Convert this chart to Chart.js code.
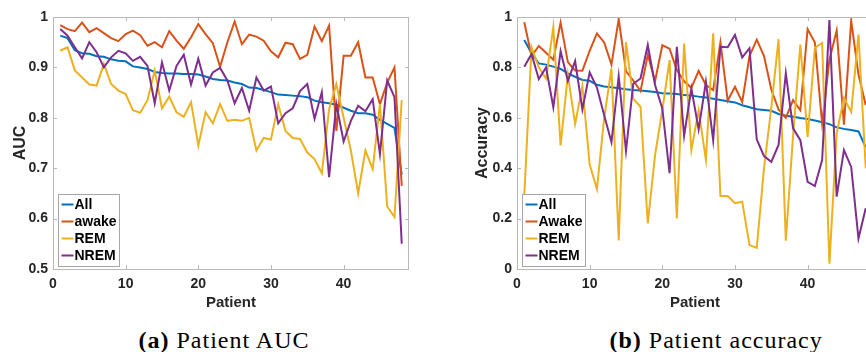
<!DOCTYPE html>
<html>
<head>
<meta charset="utf-8">
<script src="https://cdn.jsdelivr.net/npm/chart.js@4.4.0/dist/chart.umd.min.js"></script>
<style>
  html, body { margin: 0; padding: 0; background: #fff; overflow: hidden; width: 866px; height: 352px; }
  canvas { position: absolute; top: 0; }
  #aucChart { left: 0; }
  #accChart { left: 430px; }
  .caption { position: absolute; top: 328px; font-family: "Liberation Serif", serif; font-size: 24px; line-height: 24px; color: #000; white-space: nowrap; letter-spacing: 1px; }
  .caption b { font-weight: bold; }
</style>
</head>
<body>
<canvas id="aucChart" width="430" height="320"></canvas>
<canvas id="accChart" width="450" height="320"></canvas>
<div class="caption" id="capA"><b>(a)</b> Patient AUC</div>
<div class="caption" id="capB"><b>(b)</b> Patient accuracy</div>
<script>
const patients = [1, 2, 3, 4, 5, 6, 7, 8, 9, 10, 11, 12, 13, 14, 15, 16, 17, 18, 19, 20, 21, 22, 23, 24,
    25, 26, 27, 28, 29, 30, 31, 32, 33, 34, 35, 36, 37, 38, 39, 40, 41, 42, 43, 44, 45, 46, 47, 48];
const xTicks = [0, 10, 20, 30, 40];
const aucTicks = [0.5, 0.6, 0.7, 0.8, 0.9, 1];
const accTicks = [0, 0.2, 0.4, 0.6, 0.8, 1];

const aucLabels = ['All', 'awake', 'REM', 'NREM'];
const accLabels = ['All', 'Awake', 'REM', 'NREM'];

const aucAll = [0.963, 0.958, 0.934, 0.928, 0.927, 0.922, 0.921, 0.916, 0.913, 0.912,
    0.902, 0.900, 0.897, 0.891, 0.889, 0.888, 0.888, 0.887, 0.887, 0.886,
    0.882, 0.877, 0.875, 0.874, 0.870, 0.867, 0.860, 0.859, 0.855, 0.851,
    0.846, 0.845, 0.844, 0.843, 0.841, 0.834, 0.831, 0.829, 0.826, 0.820,
    0.814, 0.809, 0.809, 0.806, 0.796, 0.788, 0.780, 0.687];
const aucAwake = [0.984, 0.976, 0.972, 0.989, 0.970, 0.978, 0.968, 0.958, 0.952, 0.966,
    0.973, 0.964, 0.943, 0.950, 0.940, 0.972, 0.953, 0.937, 0.960, 0.986,
    0.966, 0.948, 0.901, 0.950, 0.991, 0.946, 0.965, 0.961, 0.953, 0.932,
    0.920, 0.949, 0.946, 0.917, 0.925, 0.981, 0.952, 0.983, 0.774, 0.923,
    0.923, 0.950, 0.880, 0.880, 0.827, 0.870, 0.900, 0.665];
const aucRem = [0.933, 0.940, 0.894, 0.880, 0.866, 0.864, 0.907, 0.867, 0.854, 0.847,
    0.815, 0.810, 0.835, 0.894, 0.819, 0.842, 0.811, 0.802, 0.831, 0.745,
    0.811, 0.789, 0.827, 0.794, 0.796, 0.794, 0.800, 0.735, 0.760, 0.757,
    0.827, 0.774, 0.760, 0.758, 0.731, 0.718, 0.690, 0.817, 0.867, 0.800,
    0.735, 0.650, 0.735, 0.698, 0.827, 0.624, 0.603, 0.835];
const aucNrem = [0.976, 0.963, 0.940, 0.918, 0.950, 0.930, 0.900, 0.920, 0.933, 0.928,
    0.913, 0.921, 0.903, 0.829, 0.910, 0.854, 0.903, 0.925, 0.866, 0.917,
    0.864, 0.890, 0.899, 0.874, 0.829, 0.859, 0.814, 0.880, 0.854, 0.862,
    0.789, 0.809, 0.819, 0.853, 0.867, 0.798, 0.851, 0.682, 0.827, 0.753,
    0.794, 0.824, 0.813, 0.837, 0.728, 0.874, 0.841, 0.550];

const accAll = [0.909, 0.856, 0.816, 0.811, 0.803, 0.794, 0.776, 0.763, 0.750, 0.747,
    0.731, 0.724, 0.721, 0.717, 0.713, 0.710, 0.708, 0.705, 0.702, 0.697,
    0.696, 0.694, 0.690, 0.688, 0.684, 0.681, 0.676, 0.671, 0.666, 0.661,
    0.650, 0.642, 0.634, 0.631, 0.628, 0.615, 0.608, 0.604, 0.599, 0.595,
    0.589, 0.582, 0.575, 0.562, 0.556, 0.552, 0.546, 0.483];
const accAwake = [0.979, 0.845, 0.885, 0.858, 0.830, 0.978, 0.821, 0.788, 0.787, 0.866,
    0.935, 0.899, 0.811, 0.992, 0.785, 0.748, 0.706, 0.850, 0.745, 0.888,
    0.874, 0.789, 0.745, 0.719, 0.786, 0.730, 0.710, 0.900, 0.668, 0.723,
    0.663, 0.845, 0.910, 0.845, 0.712, 0.633, 0.600, 0.670, 0.630, 0.952,
    0.899, 0.577, 0.830, 0.946, 0.573, 0.985, 0.772, 0.650];
const accRem = [0.290, 0.880, 0.800, 0.755, 0.960, 0.490, 0.770, 0.575, 0.727, 0.415,
    0.317, 0.600, 0.795, 0.113, 0.900, 0.675, 0.644, 0.181, 0.452, 0.630,
    0.829, 0.201, 0.895, 0.472, 0.630, 0.433, 0.935, 0.290, 0.290, 0.261,
    0.267, 0.095, 0.084, 0.400, 0.640, 0.912, 0.112, 0.530, 0.891, 0.523,
    0.878, 0.897, 0.021, 0.537, 0.679, 0.623, 0.930, 0.400];
const accNrem = [0.803, 0.853, 0.754, 0.800, 0.642, 0.864, 0.747, 0.825, 0.633, 0.780,
    0.720, 0.610, 0.503, 0.765, 0.468, 0.735, 0.756, 0.889, 0.730, 0.637,
    0.380, 0.882, 0.528, 0.717, 0.554, 0.743, 0.511, 0.882, 0.880, 0.929,
    0.840, 0.876, 0.514, 0.448, 0.425, 0.492, 0.776, 0.558, 0.511, 0.346,
    0.329, 0.432, 0.988, 0.287, 0.472, 0.405, 0.121, 0.241];

const colors = ['#0072BD', '#D95319', '#EDB120', '#7E2F8E'];
const textColor = '#262626';
const frameColor = '#b8b8b8';
const sans = '"Liberation Sans", Arial, sans-serif';

// box around the plot area with inward tick marks on all four sides
const framePlugin = {
    id: 'frame',
    afterDatasetsDraw(chart) {
        const { ctx, chartArea: a, scales } = chart;
        ctx.save();
        ctx.strokeStyle = frameColor;
        ctx.lineWidth = 1;
        ctx.strokeRect(a.left + 0.5, a.top + 0.5, a.right - a.left - 1, a.bottom - a.top);
        ctx.beginPath();
        scales.x.ticks.forEach((t) => {
            const px = Math.round(scales.x.getPixelForValue(t.value)) + 0.5;
            ctx.moveTo(px, a.bottom); ctx.lineTo(px, a.bottom - 4);
            ctx.moveTo(px, a.top); ctx.lineTo(px, a.top + 4);
        });
        scales.y.ticks.forEach((t) => {
            const py = Math.round(scales.y.getPixelForValue(t.value)) + 0.5;
            ctx.moveTo(a.left, py); ctx.lineTo(a.left + 4, py);
            ctx.moveTo(a.right, py); ctx.lineTo(a.right - 4, py);
        });
        ctx.stroke();
        ctx.restore();
    }
};

// MATLAB style legend box in the lower left corner
const boxLegendPlugin = {
    id: 'boxLegend',
    afterDatasetsDraw(chart) {
        const { ctx, chartArea: a } = chart;
        const sets = chart.data.datasets;
        ctx.save();
        ctx.font = 'bold 14px ' + sans;
        const textW = Math.max(...sets.map((d) => ctx.measureText(d.label).width));
        const w = Math.round(3 + 12 + 2 + textW + 2);
        const h = 10 + (sets.length - 1) * 17 + 11;
        const x = a.left + 5.5;
        const y = a.bottom - 2.5 - h;
        ctx.fillStyle = '#fff';
        ctx.fillRect(x, y, w, h);
        ctx.strokeStyle = '#a6a6a6';
        ctx.lineWidth = 1;
        ctx.strokeRect(x, y, w, h);
        sets.forEach((d, i) => {
            const cy = y + 10 + i * 17;
            ctx.strokeStyle = d.borderColor;
            ctx.lineWidth = 2;
            ctx.beginPath();
            ctx.moveTo(x + 3, cy);
            ctx.lineTo(x + 15, cy);
            ctx.stroke();
            ctx.fillStyle = '#000';
            ctx.textBaseline = 'middle';
            ctx.fillText(d.label, x + 16, cy + 1);
        });
        ctx.restore();
    }
};

const makeDatasets = (labels, series) => series.map((values, i) => ({
    label: labels[i],
    data: values.map((v, j) => ({ x: patients[j], y: v })),
    borderColor: colors[i],
    borderWidth: 2,
    pointRadius: 0,
    tension: 0,
    order: series.length - i,
}));

const makeChart = (id, labels, series, yTicks, yTitle, yMin, yWidth, yTitlePad, rightPad) => {
    const ctx = document.getElementById(id);
    new Chart(ctx, {
        type: 'line',
        data: { datasets: makeDatasets(labels, series) },
        options: {
            responsive: false,
            animation: false,
            layout: { padding: { top: 17, right: rightPad, left: 0, bottom: 0 } },
            plugins: { legend: { display: false }, tooltip: { enabled: false } },
            scales: {
                x: {
                    type: 'linear',
                    min: 0,
                    max: 49,
                    grid: { display: false, drawTicks: false },
                    border: { display: false },
                    afterBuildTicks: (scale) => { scale.ticks = xTicks.map((v) => ({ value: v })); },
                    afterFit: (scale) => { scale.height = 51; },
                    ticks: {
                        padding: 7,
                        maxRotation: 0,
                        color: textColor,
                        font: { family: sans, size: 14, weight: 'bold' },
                        callback: (v) => String(v),
                    },
                    title: {
                        display: true,
                        text: 'Patient',
                        color: textColor,
                        font: { family: sans, size: 15, weight: 'bold' },
                        padding: { top: 0, bottom: 8 },
                    },
                },
                y: {
                    min: yMin,
                    max: 1,
                    grid: { display: false, drawTicks: false },
                    border: { display: false },
                    afterBuildTicks: (scale) => { scale.ticks = yTicks.map((v) => ({ value: v })); },
                    afterFit: (scale) => { scale.width = yWidth; },
                    ticks: {
                        padding: 5,
                        color: textColor,
                        font: { family: sans, size: 14, weight: 'bold' },
                        callback: (v) => String(v),
                    },
                    title: {
                        display: true,
                        text: yTitle,
                        color: textColor,
                        font: { family: sans, size: 16, weight: 'bold' },
                        padding: { top: yTitlePad, bottom: 0 },
                    },
                },
            },
        },
        plugins: [framePlugin, boxLegendPlugin],
    });
};

makeChart('aucChart', aucLabels, [aucAll, aucAwake, aucRem, aucNrem], aucTicks, 'AUC', 0.5, 53, 10.5, 21);
makeChart('accChart', accLabels, [accAll, accAwake, accRem, accNrem], accTicks, 'Accuracy', 0, 87, 43.4, 7);

// centre the captions under each panel
const placeCaption = (id, centre) => {
    const el = document.getElementById(id);
    el.style.left = (centre - el.offsetWidth / 2) + 'px';
};
placeCaption('capA', 224);
placeCaption('capB', 716);
</script>
</body>
</html>
